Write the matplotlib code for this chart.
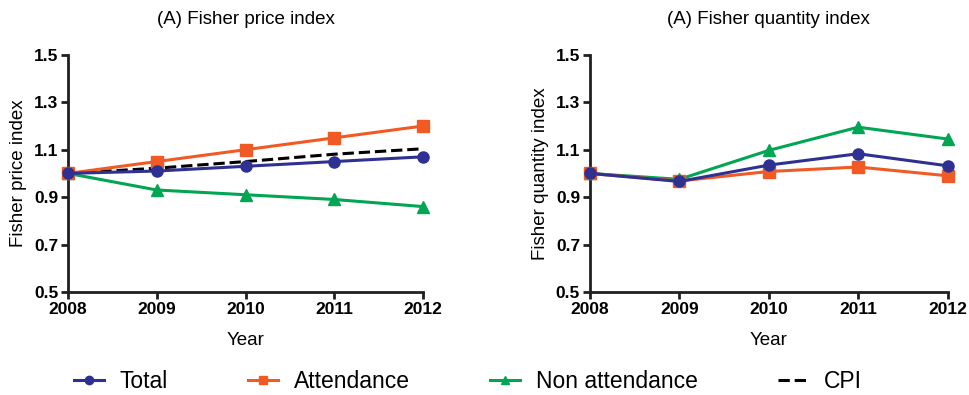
import matplotlib.pyplot as plt

years = [2008, 2009, 2010, 2011, 2012]

price_total = [1.00, 1.01, 1.03, 1.05, 1.07]
price_attendance = [1.00, 1.05, 1.10, 1.15, 1.20]
price_non_attendance = [1.00, 0.93, 0.91, 0.89, 0.86]
price_cpi = [1.00, 1.022, 1.05, 1.081, 1.104]

qty_total = [1.00, 0.966, 1.035, 1.083, 1.032]
qty_attendance = [1.00, 0.968, 1.008, 1.027, 0.99]
qty_non_attendance = [1.00, 0.975, 1.097, 1.195, 1.145]

yticks = [0.5, 0.7, 0.9, 1.1, 1.3, 1.5]

blue = "#2E3192"
orange = "#F15A24"
green = "#00A651"

plt.rcParams['font.family'] = ['Liberation Sans', 'DejaVu Sans']

fig = plt.figure(figsize=(9.7, 3.95), dpi=100)
axPrice = fig.add_axes([0.0701, 0.261, 0.366, 0.6])
axQty = fig.add_axes([0.608, 0.261, 0.369, 0.6])


def styleAxes(ax, title, ylabel):
    ax.set_xlim(2008, 2012)
    ax.set_ylim(0.5, 1.5)
    ax.set_xticks(years)
    ax.set_yticks(yticks)
    ax.set_xticklabels([str(y) for y in years], fontweight="bold", fontsize=12.5)
    ax.set_yticklabels(["%.1f" % v for v in yticks], fontweight="bold", fontsize=12.5)
    for side in ["top", "right"]:
        ax.spines[side].set_visible(False)
    for side in ["left", "bottom"]:
        ax.spines[side].set_linewidth(2)
        ax.spines[side].set_color("#231F20")
    ax.tick_params(direction="out", length=5, width=2, color="#231F20", pad=2)
    ax.set_title(title, fontsize=13.5, pad=22)
    ax.set_ylabel(ylabel, fontsize=13.5, labelpad=5)
    ax.set_xlabel("Year", fontsize=13.5, labelpad=11)


lineKw = dict(linewidth=2.2, markersize=8, clip_on=False, zorder=3)

axPrice.plot(years, price_cpi, color="black", linestyle="--", linewidth=2.2, clip_on=False, zorder=2, label="CPI")
axPrice.plot(years, price_non_attendance, color=green, marker="^", label="Non attendance", **lineKw)
axPrice.plot(years, price_attendance, color=orange, marker="s", label="Attendance", **lineKw)
axPrice.plot(years, price_total, color=blue, marker="o", label="Total", **lineKw)
styleAxes(axPrice, "(A) Fisher price index", "Fisher price index")

axQty.plot(years, qty_non_attendance, color=green, marker="^", **lineKw)
axQty.plot(years, qty_attendance, color=orange, marker="s", **lineKw)
axQty.plot(years, qty_total, color=blue, marker="o", **lineKw)
styleAxes(axQty, "(A) Fisher quantity index", "Fisher quantity index")

handles, labels = axPrice.get_legend_handles_labels()
order = [3, 2, 1, 0]
fig.legend([handles[i] for i in order], [labels[i] for i in order],
           loc="center left", bbox_to_anchor=(0.076, 0.033), ncol=4, frameon=False,
           fontsize=16.5, handlelength=1.3, columnspacing=3.5, handletextpad=0.7,
           markerscale=0.75, borderaxespad=0, borderpad=0)

fig.savefig("out.png", dpi=100)
